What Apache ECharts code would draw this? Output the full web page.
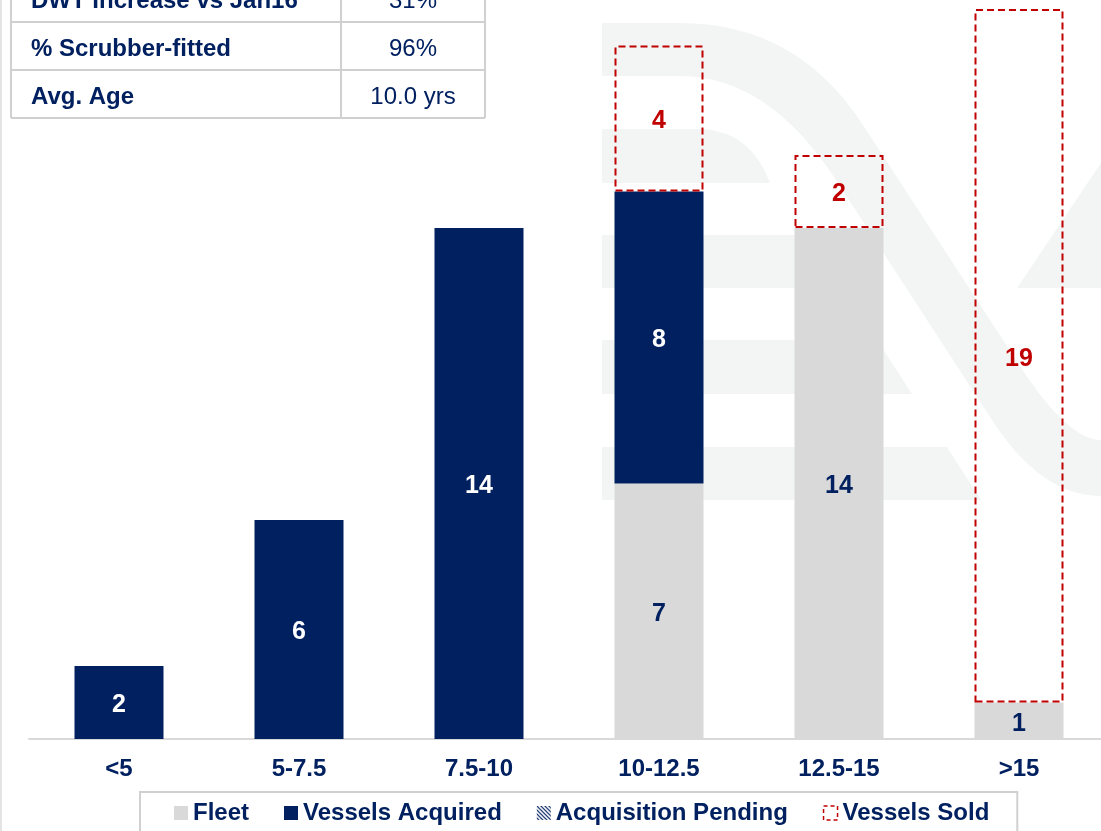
<!DOCTYPE html>
<html>
<head>
<meta charset="utf-8">
<script src="https://cdn.jsdelivr.net/npm/echarts@6/dist/echarts.min.js"></script>
<style>
html,body{margin:0;padding:0;background:#fff;}
#chart{width:1101px;height:831px;}
</style>
</head>
<body>
<div id="chart"></div>
<script>
// ---- data ----
const categories = ['<5', '5-7.5', '7.5-10', '10-12.5', '12.5-15', '>15'];
const fleet = [0, 0, 0, 7, 14, 1];
const vesselsAcquired = [2, 6, 14, 8, 0, 0];
const acquisitionPending = [0, 0, 0, 0, 0, 0];
const vesselsSold = [0, 0, 0, 4, 2, 19];
const tableLabels = ['DWT Increase vs Jan16', '% Scrubber-fitted', 'Avg. Age'];
const tableValues = ['31%', '96%', '10.0 yrs'];

// ---- styles ----
const NAVY = '#002060';
const GRAY = '#d9d9d9';
const RED = '#c00000';
const FONT = '"Liberation Sans", Arial, sans-serif';
const WM = '#f3f5f5';

const hatch = document.createElement('canvas');
hatch.width = 4; hatch.height = 4;
(function(){
  const c = hatch.getContext('2d');
  c.fillStyle = '#fff'; c.fillRect(0,0,4,4);
  c.strokeStyle = NAVY; c.lineWidth = 1.2;
  c.beginPath(); c.moveTo(-1,-1); c.lineTo(5,5); c.stroke();
  c.beginPath(); c.moveTo(-1,3); c.lineTo(1,5); c.stroke();
  c.beginPath(); c.moveTo(3,-1); c.lineTo(5,1); c.stroke();
})();

const nz = arr => arr.map(v => v === 0 ? '-' : v);
const lbl = color => ({show: true, position: 'inside', offset: [0, 3], color: color, fontSize: 25, fontWeight: 'bold', fontFamily: FONT});

// table graphics
const tbl = [];
const rowTops = [-26, 22, 70];
const rowH = 48;
rowTops.forEach((t, i) => {
  tbl.push({type: 'text', x: 31, y: t + rowH/2 + 3,
    style: {text: tableLabels[i], fill: NAVY, font: 'bold 24px ' + FONT, textAlign: 'left', textVerticalAlign: 'middle'}});
  tbl.push({type: 'text', x: 413, y: t + rowH/2 + 3,
    style: {text: tableValues[i], fill: NAVY, font: '24px ' + FONT, textAlign: 'center', textVerticalAlign: 'middle'}});
});
const lineStyle = {stroke: '#d0d0d0', lineWidth: 2};
[22, 70, 118].forEach(y => tbl.push({type: 'line', shape: {x1: 11, y1: y, x2: 485, y2: y}, style: lineStyle}));
[11, 341, 485].forEach(x => tbl.push({type: 'line', shape: {x1: x, y1: -30, x2: x, y2: 118}, style: lineStyle}));

// watermark (simple path commands -> polygon points)
function pathPts(d) {
  const tk = d.trim().split(/\s+/);
  const pts = []; let i = 0; let cur = [0, 0];
  while (i < tk.length) {
    const c = tk[i++];
    if (c === 'M' || c === 'L') { cur = [+tk[i++], +tk[i++]]; pts.push(cur); }
    else if (c === 'Q') {
      const cx = +tk[i++], cy = +tk[i++], ex = +tk[i++], ey = +tk[i++];
      const s = cur;
      for (let k = 1; k <= 16; k++) {
        const t = k / 16, u = 1 - t;
        pts.push([u*u*s[0] + 2*u*t*cx + t*t*ex, u*u*s[1] + 2*u*t*cy + t*t*ey]);
      }
      cur = [ex, ey];
    }
  }
  return pts;
}
const wm = [
  'M 602 23 L 680 23 Q 797 23 863 125 L 1020 366 Q 1068 440 1101 440 L 1110 440 L 1110 496 L 1101 496 Q 1041 496 992 420 L 836 180 Q 768 76 680 76 L 602 76',
  'M 602 129 L 697 129 Q 750 129 770 183 L 602 183',
  'M 602 235 L 809 235 L 843 288 L 602 288',
  'M 602 340 L 877 340 L 912 394 L 602 394',
  'M 602 447 L 947 447 L 981 500 L 602 500',
  'M 1017 288 L 1101 163 L 1110 163 L 1110 288'
].map(p => ({type: 'polygon', shape: {points: pathPts(p)}, style: {fill: WM}, silent: true}));

const chart = echarts.init(document.getElementById('chart'));
chart.setOption({
  backgroundColor: '#fff',
  animation: false,
  textStyle: {fontFamily: FONT},
  graphic: [
    {type: 'group', children: wm, z: -10},
    {type: 'rect', shape: {x: 0, y: 0, width: 2, height: 831}, style: {fill: '#e4e4e4'}},
    {type: 'group', children: tbl}
  ],
  grid: {left: 29, width: 1080, top: 9, bottom: 92, outerBoundsMode: 'none', containLabel: false},
  xAxis: {
    type: 'category', data: categories,
    axisLine: {lineStyle: {color: GRAY, width: 2}},
    axisTick: {show: false},
    axisLabel: {color: NAVY, fontSize: 24, fontWeight: 'bold', fontFamily: FONT, margin: 18}
  },
  yAxis: {type: 'value', min: 0, max: 20, show: false, splitLine: {show: false}},
  legend: {
    left: 140, top: 792,
    padding: [9, 28, 40, 34],
    borderColor: '#d0d0d0', borderWidth: 2, backgroundColor: '#fff',
    icon: 'rect',
    itemWidth: 14, itemHeight: 14, itemGap: 35,
    textStyle: {color: NAVY, fontSize: 24, fontWeight: 'bold', fontFamily: FONT},
    data: ['Fleet', 'Vessels Acquired', 'Acquisition Pending',
      {name: 'Vessels Sold', itemStyle: {borderType: [4, 3], borderWidth: 1.5}}]
  },
  series: [
    {name: 'Fleet', type: 'bar', stack: 's', barWidth: 89, data: nz(fleet),
     itemStyle: {color: GRAY}, label: lbl(NAVY)},
    {name: 'Vessels Acquired', type: 'bar', stack: 's', barWidth: 89, data: nz(vesselsAcquired),
     itemStyle: {color: NAVY}, label: lbl('#fff')},
    {name: 'Acquisition Pending', type: 'bar', stack: 's', barWidth: 89, data: nz(acquisitionPending),
     itemStyle: {color: {image: hatch, repeat: 'repeat'}}, label: lbl(NAVY)},
    {name: 'Vessels Sold', type: 'bar', stack: 's', barWidth: 89, data: nz(vesselsSold),
     itemStyle: {color: 'rgba(255,255,255,0)', borderColor: RED, borderWidth: 2, borderType: [7, 4]},
     label: lbl(RED)}
  ]
});
</script>
</body>
</html>
